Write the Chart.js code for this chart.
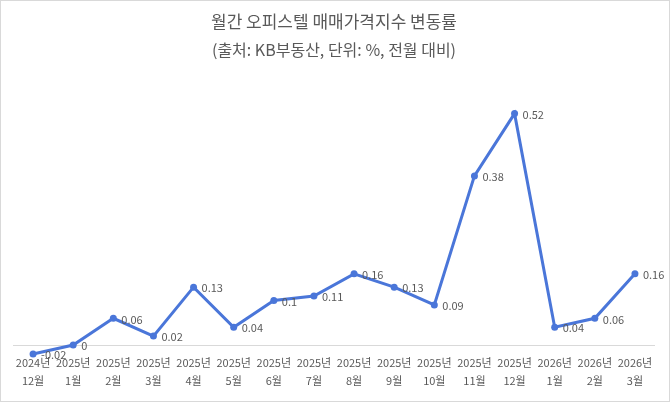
<!DOCTYPE html>
<html>
<head>
<meta charset="utf-8">
<script src="https://cdn.jsdelivr.net/npm/chart.js@4.4.1/dist/chart.umd.min.js"></script>
<style>
html,body{margin:0;padding:0;background:#fff;}
#wrap{width:670px;height:403px;position:relative;}
</style>
</head>
<body>
<div id="wrap"><canvas id="c" width="670" height="403"></canvas></div>
<script>
const years = ['2024년','2025년','2025년','2025년','2025년','2025년','2025년','2025년','2025년','2025년','2025년','2025년','2025년','2026년','2026년','2026년'];
const months = ['12월','1월','2월','3월','4월','5월','6월','7월','8월','9월','10월','11월','12월','1월','2월','3월'];
const changeRate = [-0.02, 0, 0.06, 0.02, 0.13, 0.04, 0.1, 0.11, 0.16, 0.13, 0.09, 0.38, 0.52, 0.04, 0.06, 0.16];
const titleText = '월간 오피스텔 매매가격지수 변동률';
const subtitleText = '(출처: KB부동산, 단위: %, 전월 대비)';

const labels = years.map((y, i) => [y, months[i]]);
const FONT = "'Noto Sans CJK KR', 'Noto Sans', sans-serif";
const GRAY = '#595959';
const BLUE = '#4a76d9';

const frame = {
  id: 'frame',
  afterDraw(chart) {
    const ctx = chart.ctx;
    ctx.save();
    ctx.strokeStyle = '#d9d9d9';
    ctx.lineWidth = 1;
    ctx.strokeRect(0.5, 0.5, 669, 401);
    ctx.restore();
  }
};

const valueLabels = {
  id: 'valueLabels',
  afterDatasetsDraw(chart) {
    const ctx = chart.ctx;
    const meta = chart.getDatasetMeta(0);
    const data = chart.data.datasets[0].data;
    ctx.save();
    ctx.font = '11px ' + FONT;
    ctx.fillStyle = GRAY;
    ctx.textAlign = 'left';
    ctx.textBaseline = 'middle';
    meta.data.forEach((pt, i) => {
      ctx.fillText(String(data[i]), pt.x + 8, pt.y + 1);
    });
    ctx.restore();
  }
};

new Chart(document.getElementById('c'), {
  type: 'line',
  data: {
    labels: labels,
    datasets: [{
      data: changeRate,
      borderColor: BLUE,
      backgroundColor: BLUE,
      borderWidth: 3,
      pointRadius: 3.5,
      pointHoverRadius: 3.5,
      pointBackgroundColor: BLUE,
      pointBorderColor: BLUE,
      pointBorderWidth: 0,
      tension: 0,
      clip: false
    }]
  },
  options: {
    responsive: false,
    animation: false,
    devicePixelRatio: 1,
    layout: { padding: { left: 13, right: 15, top: 0, bottom: 13 } },
    plugins: {
      legend: { display: false },
      tooltip: { enabled: false },
      title: {
        display: true,
        text: titleText,
        color: GRAY,
        font: { family: FONT, size: 17, weight: 'normal', lineHeight: 28 / 17 },
        padding: { top: 8, bottom: 0 }
      },
      subtitle: {
        display: true,
        text: subtitleText,
        color: GRAY,
        font: { family: FONT, size: 16, weight: 'normal', lineHeight: 1.75 },
        padding: { top: 0, bottom: 14 }
      }
    },
    scales: {
      x: {
        offset: true,
        grid: { display: false, drawTicks: false },
        border: { display: false },
        ticks: {
          color: GRAY,
          font: { family: FONT, size: 11, lineHeight: 1.64 },
          padding: 0,
          maxRotation: 0,
          autoSkip: false
        }
      },
      y: {
        min: -0.02,
        max: 0.6,
        border: { display: false },
        grid: {
          drawTicks: false,
          color: (ctx) => (ctx.tick && ctx.tick.value === 0 ? '#d9d9d9' : 'rgba(0,0,0,0)'),
          lineWidth: 1
        },
        ticks: { display: false, stepSize: 0.02 }
      }
    }
  },
  plugins: [frame, valueLabels]
});
</script>
</body>
</html>
